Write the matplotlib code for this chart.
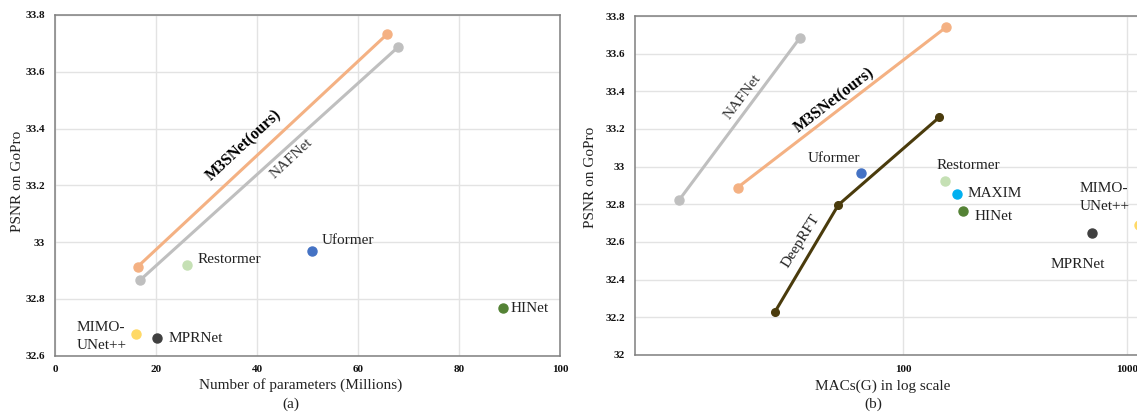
import matplotlib
matplotlib.use("Agg")
import matplotlib.pyplot as plt
from matplotlib.ticker import FuncFormatter, FixedLocator

# ---------------- data ----------------
# (a) parameters (M) vs PSNR
params_m3snet = [16.4, 65.8]
psnr_m3snet_a = [32.914, 33.733]
params_nafnet = [16.9, 68.0]
psnr_nafnet_a = [32.867, 33.688]
single_names_a = ["Restormer", "Uformer", "HINet", "MIMO-UNet++", "MPRNet"]
single_params = [26.2, 50.8, 88.8, 16.0, 20.2]
single_psnr_a = [32.92, 32.969, 32.768, 32.678, 32.664]

# (b) MACs (G, log) vs PSNR
macs_nafnet = [10.0, 34.6]
psnr_nafnet_b = [32.824, 33.685]
macs_m3snet = [18.2, 155.0]
psnr_m3snet_b = [32.889, 33.74]
macs_deeprft = [26.7, 51.3, 145.0]
psnr_deeprft = [32.228, 32.797, 33.263]
single_names_b = ["Uformer", "Restormer", "MAXIM", "HINet", "MPRNet", "MIMO-UNet++"]
single_macs = [64.5, 153.6, 173.0, 185.0, 698.0, 1130.0]
single_psnr_b = [32.966, 32.926, 32.856, 32.767, 32.65, 32.69]

yticks_a = [32.6, 32.8, 33.0, 33.2, 33.4, 33.6, 33.8]
yticks_b = [32.0, 32.2, 32.4, 32.6, 32.8, 33.0, 33.2, 33.4, 33.6, 33.8]
xticks_a = [0, 20, 40, 60, 80, 100]
xticks_b = [100, 1000]

colors = {
    "M3SNet": "#F4B183",
    "NAFNet": "#BFBFBF",
    "DeepRFT": "#4A3B0C",
    "Uformer": "#4472C4",
    "Restormer": "#C5E0B4",
    "MAXIM": "#00B0F0",
    "HINet": "#548235",
    "MPRNet": "#404040",
    "MIMO-UNet++": "#FFD966",
}

plt.rcParams["font.family"] = ["Liberation Serif", "DejaVu Serif"]

W, H = 1137, 413
fig = plt.figure(figsize=(W / 100, H / 100), dpi=100)

def px_rect(x0, y0, x1, y1):
    return [x0 / W, 1 - y1 / H, (x1 - x0) / W, (y1 - y0) / H]

fmt = FuncFormatter(lambda v, p: "%g" % round(v, 2))
spine_c = "#7F7F7F"
grid_c = "#E3E3E3"
lab_fs = 11
txt_c = "#222222"

def style(ax):
    for s in ax.spines.values():
        s.set_color(spine_c)
        s.set_linewidth(1.1)
    ax.tick_params(length=0, pad=7, labelsize=8, labelcolor="#111111")
    for lbl in ax.get_xticklabels() + ax.get_yticklabels():
        lbl.set_fontweight("bold")
    ax.grid(True, color=grid_c, linewidth=1.0)
    ax.set_axisbelow(True)

# ---------------- (a) ----------------
ax1 = fig.add_axes(px_rect(55, 15, 560, 355.7))
ax1.set_xlim(0, 100)
ax1.set_ylim(32.6, 33.8)
ax1.xaxis.set_major_locator(FixedLocator(xticks_a))
ax1.yaxis.set_major_locator(FixedLocator(yticks_a))
ax1.yaxis.set_major_formatter(fmt)
style(ax1)

ax1.plot(params_m3snet, psnr_m3snet_a, "-o", color=colors["M3SNet"], lw=2.2, ms=6.5, zorder=3)
ax1.plot(params_nafnet, psnr_nafnet_a, "-o", color=colors["NAFNet"], lw=2.2, ms=6.5, zorder=3)
for n, x, y in zip(single_names_a, single_params, single_psnr_a):
    ax1.plot([x], [y], "o", color=colors[n], ms=6.5, zorder=4)

ax1.text(37.4, 33.342, "M3SNet(ours)", rotation=43, rotation_mode="anchor",
         ha="center", va="center", fontsize=11.5, fontweight="bold")
ax1.text(46.8, 33.296, "NAFNet", rotation=43, rotation_mode="anchor",
         ha="center", va="center", fontsize=11, color="#333333")
ax1.text(28.2, 32.94, "Restormer", ha="left", va="center", fontsize=lab_fs, color=txt_c)
ax1.text(52.8, 33.005, "Uformer", ha="left", va="center", fontsize=lab_fs, color=txt_c)
ax1.text(90.2, 32.765, "HINet", ha="left", va="center", fontsize=lab_fs, color=txt_c)
ax1.text(4.3, 32.667, "MIMO-\nUNet++", ha="left", va="center", fontsize=lab_fs,
         color=txt_c, linespacing=1.45)
ax1.text(22.5, 32.662, "MPRNet", ha="left", va="center", fontsize=lab_fs, color=txt_c)

fig.text(301 / W, 1 - 385 / H, "Number of parameters (Millions)", ha="center", va="center",
         fontsize=lab_fs, color=txt_c)
fig.text(291 / W, 1 - 404 / H, "(a)", ha="center", va="center", fontsize=lab_fs, color=txt_c)
fig.text(17.5 / W, 1 - 181 / H, "PSNR on GoPro", ha="center", va="center", rotation=90,
         fontsize=lab_fs, color=txt_c)

# ---------------- (b) ----------------
x_left, x_right = 635, 1200
dec = 224.0
x100 = 903.3
xmin = 10 ** (2 - (x100 - x_left) / dec)
xmax = 10 ** (2 + (x_right - x100) / dec)
ax2 = fig.add_axes(px_rect(x_left, 16, x_right, 355))
ax2.set_xscale("log")
ax2.set_xlim(xmin, xmax)
ax2.set_ylim(32.0, 33.8)
ax2.xaxis.set_major_locator(FixedLocator(xticks_b))
ax2.xaxis.set_minor_locator(FixedLocator([]))
ax2.xaxis.set_major_formatter(FuncFormatter(lambda v, p: "%d" % v))
ax2.yaxis.set_major_locator(FixedLocator(yticks_b))
ax2.yaxis.set_major_formatter(fmt)
style(ax2)

ax2.plot(macs_nafnet, psnr_nafnet_b, "-o", color=colors["NAFNet"], lw=2.2, ms=6.5, zorder=3)
ax2.plot(macs_m3snet, psnr_m3snet_b, "-o", color=colors["M3SNet"], lw=2.2, ms=6.5, zorder=3)
ax2.plot(macs_deeprft, psnr_deeprft, "-o", color=colors["DeepRFT"], lw=2.2, ms=5.5, zorder=3)
for n, x, y in zip(single_names_b, single_macs, single_psnr_b):
    ax2.plot([x], [y], "o", color=colors[n], ms=6.5, zorder=4, clip_on=False)

ax2.text(19.25, 33.372, "NAFNet", rotation=53, rotation_mode="anchor",
         ha="center", va="center", fontsize=11, color="#333333")
ax2.text(49.5, 33.354, "M3SNet(ours)", rotation=37.6, rotation_mode="anchor",
         ha="center", va="center", fontsize=11.5, fontweight="bold")
ax2.text(34.8, 32.603, "DeepRFT", rotation=58, rotation_mode="anchor",
         ha="center", va="center", fontsize=11, color=txt_c)
ax2.text(37.4, 33.045, "Uformer", ha="left", va="center", fontsize=lab_fs, color=txt_c)
ax2.text(141, 33.004, "Restormer", ha="left", va="center", fontsize=lab_fs, color=txt_c)
ax2.text(193, 32.856, "MAXIM", ha="left", va="center", fontsize=lab_fs, color=txt_c)
ax2.text(207, 32.735, "HINet", ha="left", va="center", fontsize=lab_fs, color=txt_c)
ax2.text(611, 32.836, "MIMO-\nUNet++", ha="left", va="center", fontsize=lab_fs,
         color=txt_c, linespacing=1.45)
ax2.text(452, 32.479, "MPRNet", ha="left", va="center", fontsize=lab_fs, color=txt_c)

fig.text(883 / W, 1 - 386 / H, "MACs(G) in log scale", ha="center", va="center",
         fontsize=lab_fs, color=txt_c)
fig.text(873 / W, 1 - 404 / H, "(b)", ha="center", va="center", fontsize=lab_fs, color=txt_c)
fig.text(591 / W, 1 - 177 / H, "PSNR on GoPro", ha="center", va="center", rotation=90,
         fontsize=lab_fs, color=txt_c)

fig.savefig("out.png", dpi=100)
